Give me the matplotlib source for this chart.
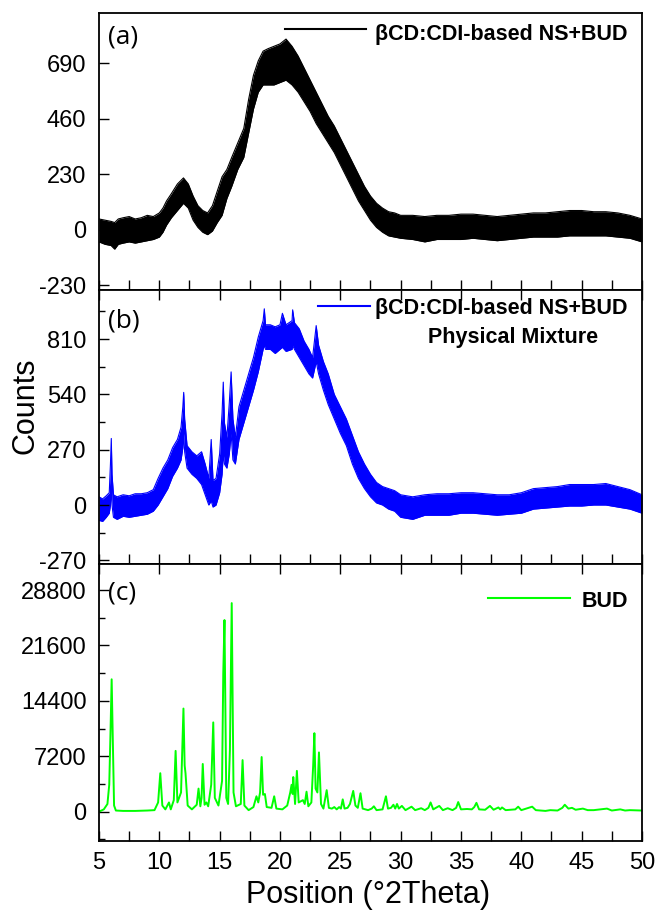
import numpy as np
import matplotlib
matplotlib.use("Agg")
import matplotlib.pyplot as plt
from matplotlib.ticker import MultipleLocator

plt.rcParams['font.family'] = ['Liberation Sans', 'DejaVu Sans']
plt.rcParams['axes.unicode_minus'] = False

# (a) nanosponge + BUD: noise band (lower / upper edge of the trace)
theta_a = [5.0, 5.5, 6.0, 6.3, 6.6, 7.0, 7.5, 8.0, 8.5, 9.0, 9.5, 10.0, 10.3, 10.6,
           11.0, 11.5, 12.0, 12.4, 12.8, 13.2, 13.6, 14.0, 14.4, 14.8, 15.2, 15.6,
           16.0, 16.5, 17.0, 17.4, 17.8, 18.2, 18.6, 19.0, 19.5, 20.0, 20.5, 21.0,
           21.5, 22.0, 22.5, 23.0, 23.5, 24.0, 24.5, 25.0, 25.5, 26.0, 26.5, 27.0,
           27.5, 28.0, 28.5, 29.0, 29.5, 30.0, 31.0, 32.0, 33.0, 34.0, 35.0, 36.0,
           37.0, 38.0, 39.0, 40.0, 41.0, 42.0, 43.0, 44.0, 45.0, 46.0, 47.0, 48.0,
           49.0, 50.0]
lo_a = [-50, -60, -65, -80, -60, -55, -50, -55, -50, -45, -40, -30, -10, 20,
        50, 80, 110, 90, 40, 10, -10, -20, -5, 30, 60, 130,
        180, 250, 300, 400, 500, 570, 600, 600, 600, 610, 620, 600,
        570, 530, 490, 440, 400, 360, 320, 270, 220, 170, 120, 80,
        40, 10, -10, -25, -30, -35, -40, -50, -40, -40, -40, -35,
        -40, -45, -40, -35, -30, -30, -30, -25, -25, -25, -25, -30,
        -35, -50]
hi_a = [45, 40, 35, 30, 45, 50, 55, 45, 50, 60, 55, 70, 90, 120,
        150, 190, 215, 190, 140, 100, 80, 70, 100, 160, 220, 250,
        300, 360, 420, 540, 640, 700, 740, 750, 760, 770, 790, 760,
        720, 670, 620, 570, 520, 470, 430, 380, 330, 280, 230, 180,
        140, 110, 90, 75, 70, 60, 60, 55, 60, 60, 65, 65,
        60, 55, 60, 65, 70, 70, 75, 80, 80, 75, 75, 70,
        60, 45]

# (b) physical mixture
theta_b = [5.0, 5.3, 5.6, 5.85, 5.95, 6.02, 6.08, 6.2, 6.5, 7.0, 7.5, 8.0, 8.5,
           9.0, 9.5, 9.9, 10.3, 10.7, 11.1, 11.5, 11.8, 11.95, 12.02, 12.1, 12.3,
           12.7, 13.1, 13.5, 13.8, 14.1, 14.3, 14.45, 14.7, 15.0, 15.2, 15.3,
           15.4, 15.6, 15.8, 15.95, 16.1, 16.3, 16.6, 17.0, 17.4, 17.8, 18.2,
           18.6, 18.7, 18.8, 19.2, 19.6, 20.0, 20.2, 20.5, 21.0, 21.05, 21.2,
           21.6, 22.0, 22.4, 22.7, 23.0, 23.2, 23.6, 24.0, 24.5, 25.0, 25.5,
           26.0, 26.5, 27.0, 27.5, 28.0, 28.5, 29.0, 29.5, 30.0, 31.0, 32.0,
           33.0, 34.0, 35.0, 36.0, 37.0, 38.0, 39.0, 40.0, 41.0, 42.0, 43.0,
           44.0, 45.0, 46.0, 47.0, 48.0, 49.0, 50.0]
lo_b = [-75, -80, -60, -40, 0, 100, 0, -60, -70, -55, -60, -55, -50,
        -45, -30, 0, 40, 80, 140, 180, 220, 280, 350, 260, 180,
        150, 130, 100, 50, 0, 20, -10, 0, 60, 150, 250,
        200, 180, 250, 350, 220, 200, 320, 400, 480, 560, 650,
        760, 780, 760, 760, 740, 760, 770, 750, 760, 780, 760,
        720, 680, 640, 620, 700, 640, 560, 490, 420, 350, 290,
        200, 130, 80, 40, 10, 0, -20, -30, -60, -70, -50,
        -50, -50, -40, -40, -45, -50, -45, -40, -20, -15, -10,
        -5, -5, 0, 0, -10, -20, -40]
hi_b = [40, 30, 45, 60, 200, 325, 150, 50, 40, 50, 45, 55, 55,
        60, 75, 130, 180, 220, 280, 320, 380, 480, 550, 420, 290,
        260, 240, 260, 200, 130, 320, 120, 130, 250, 450, 600,
        400, 330, 500, 650, 420, 330, 480, 560, 640, 720, 820,
        900, 958, 880, 880, 870, 880, 936, 880, 900, 953, 890,
        860, 800, 760, 720, 876, 780, 700, 640, 540, 480, 420,
        340, 260, 200, 150, 110, 90, 80, 70, 50, 40, 50,
        55, 55, 60, 60, 55, 50, 50, 60, 80, 85, 90,
        100, 100, 100, 105, 90, 75, 50]

# (c) BUD reference pattern
theta_c = [5.0, 5.4, 5.7, 5.85, 5.95, 6.05, 6.15, 6.25, 6.4, 7.0, 8.0, 9.0, 9.6,
           9.9, 10.08, 10.25, 10.5, 10.8, 10.95, 11.2, 11.35, 11.5, 11.8, 12.0,
           12.1, 12.17, 12.35, 12.7, 13.1, 13.25, 13.4, 13.5, 13.6, 13.75, 13.9,
           14.05, 14.3, 14.47, 14.6, 14.9, 15.2, 15.3, 15.4, 15.55, 15.7, 15.85,
           16.0, 16.15, 16.35, 16.75, 16.9, 17.05, 17.4, 17.8, 18.05, 18.2,
           18.35, 18.48, 18.6, 18.75, 18.9, 19.3, 19.52, 19.7, 20.2, 20.6,
           20.85, 20.96, 21.05, 21.1, 21.25, 21.4, 21.55, 21.9, 22.05, 22.2,
           22.35, 22.6, 22.75, 22.85, 22.95, 23.1, 23.23, 23.4, 23.6, 23.87,
           24.05, 24.3, 24.5, 24.7, 24.9, 25.05, 25.2, 25.35, 25.6, 25.8, 26.07,
           26.25, 26.45, 26.67, 26.85, 27.3, 27.6, 27.78, 28.0, 28.5, 28.78,
           28.95, 29.2, 29.4, 29.55, 29.7, 29.85, 30.1, 30.4, 30.9, 31.2, 31.7,
           32.0, 32.3, 32.48, 32.7, 33.2, 33.5, 33.9, 34.3, 34.6, 34.77, 35.0,
           35.5, 35.9, 36.1, 36.28, 36.5, 37.0, 37.4, 37.7, 38.1, 38.25, 38.4,
           38.7, 39.5, 39.74, 40.0, 40.9, 41.2, 42.0, 42.4, 43.0, 43.4, 43.6,
           43.9, 44.2, 44.5, 45.1, 45.5, 46.0, 47.1, 47.5, 48.2, 48.6, 49.0, 50.0]
counts_c = [0, 300, 1000, 3500, 10000, 17200, 9000, 800, 150, 100, 100, 150, 200,
            1200, 5000, 800, 300, 1200, 300, 1500, 7900, 1200, 2500, 13400,
            6000, 5000, 800, 300, 900, 3000, 700, 1800, 6200, 900, 1200,
            700, 3500, 11600, 1800, 800, 4000, 18000, 24900, 1800, 1000, 8000,
            27100, 2500, 700, 1000, 6700, 800, 200, 600, 2000, 1200,
            2500, 7100, 2200, 2300, 600, 500, 2000, 400, 300, 800,
            2500, 3500, 2300, 4500, 1000, 5300, 1200, 1500, 1000, 2600,
            700, 1200, 6000, 10200, 3000, 2500, 7700, 1000, 400, 2800,
            500, 400, 600, 300, 600, 400, 1600, 400, 500, 1000, 2700,
            800, 500, 2400, 400, 200, 400, 700, 200, 300, 2000,
            400, 500, 900, 400, 1000, 400, 750, 200, 650, 200, 450,
            200, 500, 1200, 300, 750, 200, 450, 200, 500, 1250, 300,
            350, 300, 600, 1150, 300, 250, 750, 250, 550, 300, 550,
            200, 300, 650, 200, 650, 200, 100, 200, 150, 500, 900,
            400, 500, 250, 400, 200, 200, 400, 150, 300, 150, 200, 150]

fig = plt.figure(figsize=(6.59, 9.15), dpi=100)
left, width = 0.1502, 0.8240
ax_a = fig.add_axes([left, 0.6831, width, 0.3027])
ax_b = fig.add_axes([left, 0.3836, width, 0.2995])
ax_c = fig.add_axes([left, 0.0809, width, 0.3027])

# noisy traces drawn as a filled band between their lower and upper edges
ax_a.fill_between(theta_a, lo_a, hi_a, color='black', lw=0)
ax_a.plot(theta_a, lo_a, color='black', lw=0.8)
ax_a.plot(theta_a, hi_a, color='black', lw=0.8)

ax_b.fill_between(theta_b, lo_b, hi_b, color='#0000ff', lw=0)
ax_b.plot(theta_b, lo_b, color='#0000ff', lw=0.8)
ax_b.plot(theta_b, hi_b, color='#0000ff', lw=0.8)

ax_c.plot(theta_c, counts_c, color='#00ff00', lw=1.4)

ax_a.set_ylim(-249, 898)
ax_b.set_ylim(-288, 1050)
ax_c.set_ylim(-3806, 32180)

ax_a.yaxis.set_major_locator(MultipleLocator(230))
ax_b.yaxis.set_major_locator(MultipleLocator(270))
ax_b.yaxis.set_minor_locator(MultipleLocator(135))
ax_c.yaxis.set_major_locator(MultipleLocator(7200))
ax_c.yaxis.set_minor_locator(MultipleLocator(3600))

for ax in (ax_a, ax_b, ax_c):
    ax.set_xlim(5, 50)
    ax.xaxis.set_major_locator(MultipleLocator(5))
    ax.xaxis.set_minor_locator(MultipleLocator(2.5))
    ax.tick_params(which='both', direction='in', width=1.0, labelsize=17, pad=9)
    ax.tick_params(which='major', length=7)
    ax.tick_params(which='minor', length=4)
    ax.tick_params(axis='x', which='minor', length=7)
    for s in ax.spines.values():
        s.set_linewidth(1.3)

ax_a.tick_params(axis='x', labelbottom=False)
ax_b.tick_params(axis='x', labelbottom=False, top=True)
ax_c.tick_params(axis='x', top=True, pad=8)

# panel tags
for ax, tag, y in ((ax_a, '(a)', 0.913), (ax_b, '(b)', 0.887), (ax_c, '(c)', 0.895)):
    ax.text(0.017, y, tag, transform=ax.transAxes, fontsize=19, family=['Open Sans'],
            va='center', ha='left')

# legend keys
lab = 'βCD:CDI-based NS+BUD'
ax_a.plot([0.3425, 0.4917], [0.942, 0.942], color='black', lw=1.5, transform=ax_a.transAxes)
ax_a.text(0.974, 0.924, lab, transform=ax_a.transAxes, fontsize=15.5, weight='bold',
          ha='right', va='center')

ax_b.plot([0.403, 0.499], [0.942, 0.942], color='#0000ff', lw=1.5, transform=ax_b.transAxes)
ax_b.text(0.974, 0.934, lab, transform=ax_b.transAxes, fontsize=15.5, weight='bold',
          ha='right', va='center')
ax_b.text(0.762, 0.828, 'Physical Mixture', transform=ax_b.transAxes, fontsize=15.5,
          weight='bold', ha='center', va='center')

ax_c.plot([0.716, 0.867], [0.877, 0.877], color='#00ff00', lw=1.5, transform=ax_c.transAxes)
ax_c.text(0.974, 0.866, 'BUD', transform=ax_c.transAxes, fontsize=15.5, weight='bold',
          ha='right', va='center')

fig.text(0.038, 0.557, 'Counts', rotation=90, fontsize=22, ha='center', va='center')
fig.text(0.558, 0.022, 'Position (°2Theta)', fontsize=22, ha='center', va='center')

fig.savefig('out.png', dpi=100)
